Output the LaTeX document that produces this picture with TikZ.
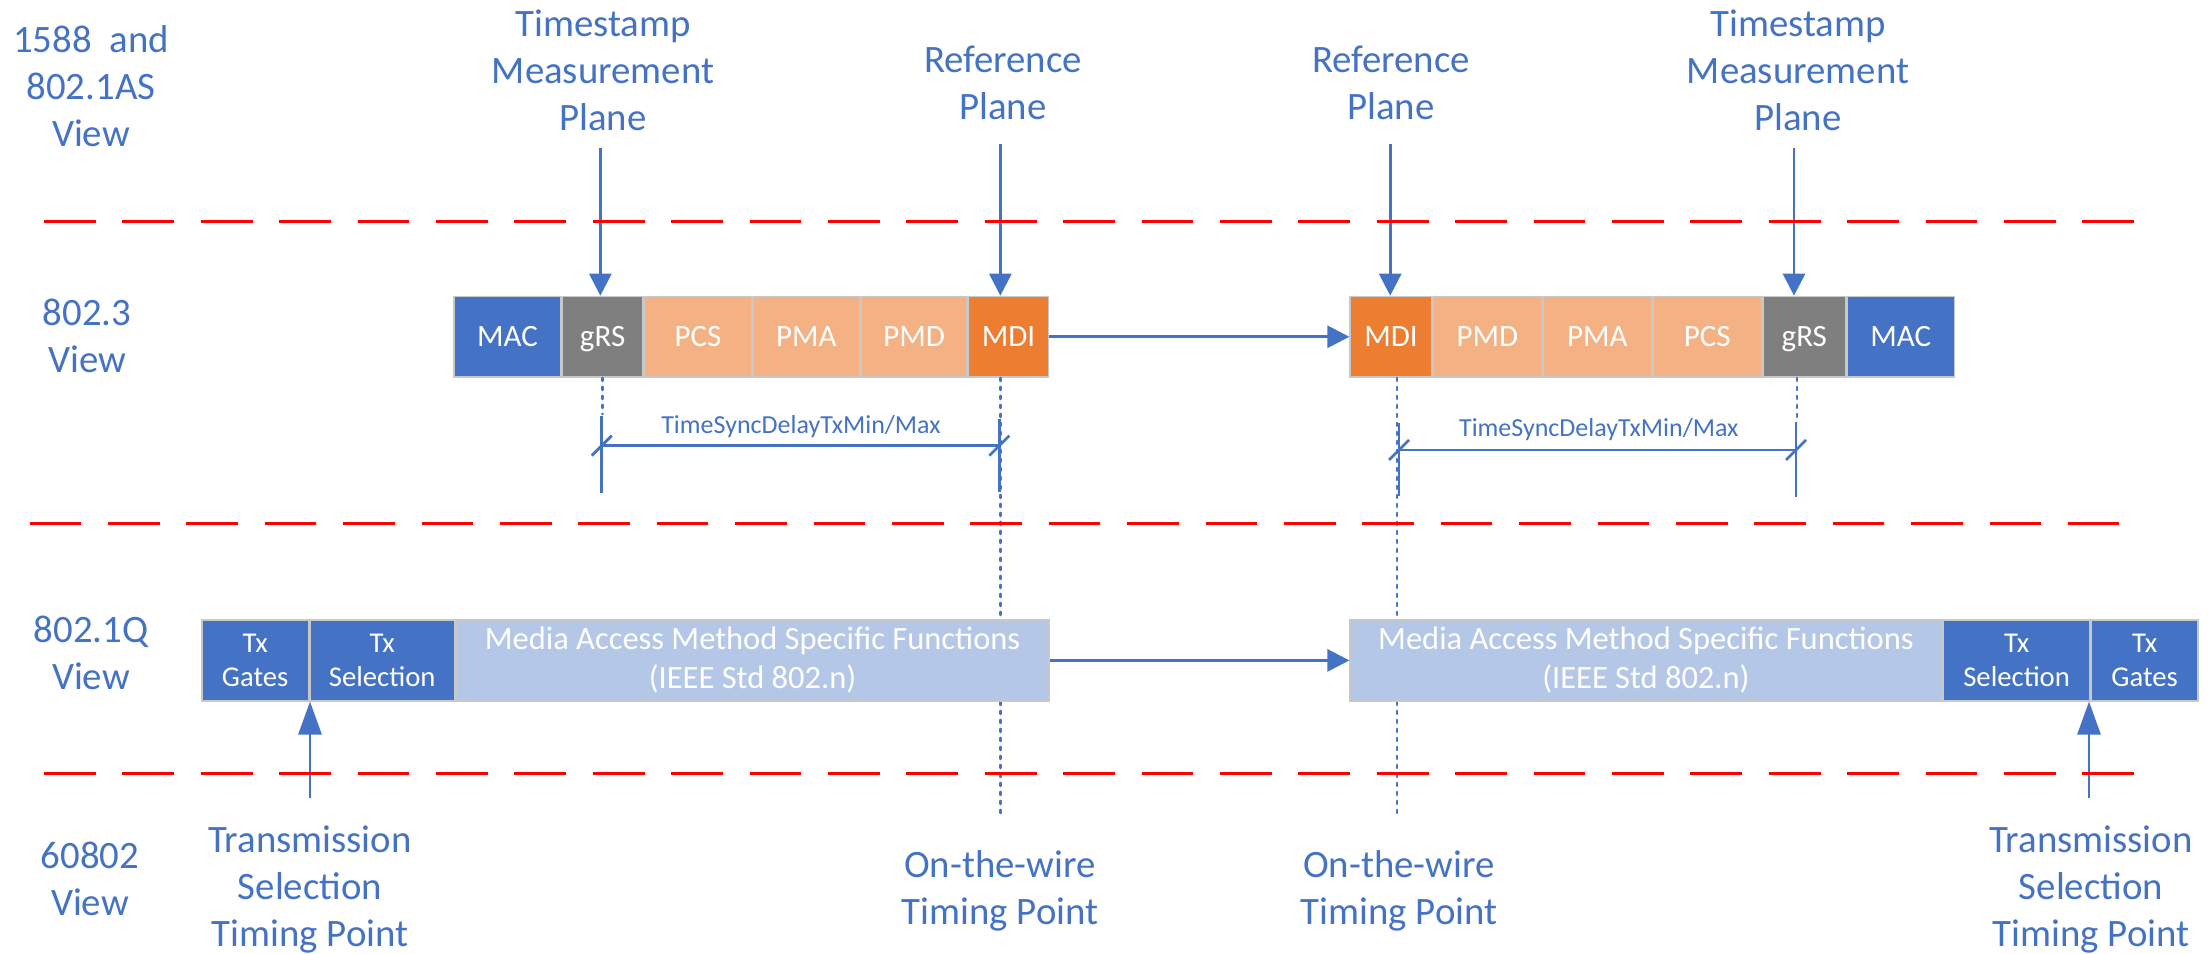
\documentclass[tikz,border=0pt]{standalone}
\usepackage{fontspec}
\setmainfont{Carlito}
\usetikzlibrary{arrows.meta}
\definecolor{msblue}{HTML}{4472C4}
\definecolor{grsfill}{HTML}{7F7F7F}
\definecolor{phyfill}{HTML}{F4B183}
\definecolor{mdifill}{HTML}{ED7D31}
\definecolor{mediafill}{HTML}{B4C7E7}
\definecolor{boxedge}{HTML}{C8C8C8}
\definecolor{divider}{HTML}{FF0000}

\begin{document}
\begin{tikzpicture}[x=1pt,y=-1pt,
  % multi-line labels are anchored at the baseline of their last line
  lbl/.style={text=msblue, align=center, inner sep=0pt, anchor=base,
    font=\fontsize{38.8}{46.8}\selectfont},
  dimlbl/.style={text=msblue, inner sep=0pt, anchor=base,
    font=\fontsize{26}{31}\selectfont},
  layer/.style={draw=boxedge, line width=1.5pt, inner sep=0pt, anchor=north west,
    text=white, minimum height=80.7pt, text height=20pt, text depth=0pt,
    font=\fontsize{31}{37}\selectfont},
  qbox/.style={draw=boxedge, line width=1.5pt, inner sep=0pt, anchor=north west,
    text=white, minimum height=80.7pt, align=center},
  txbox/.style={qbox, fill=msblue, font=\fontsize{28.7}{34.5}\selectfont},
  mediabox/.style={qbox, fill=mediafill, font=\fontsize{32.5}{39}\selectfont},
  conn/.style={draw=msblue, line width=2.75pt},
  headdown/.style={-{Triangle[length=22pt,width=22pt]}},
  headup/.style={-{Triangle[length=33pt,width=23pt]}},
  dotline/.style={draw=msblue, line width=2.75pt, line cap=round, dash pattern=on 3pt off 6pt},
  extline/.style={draw=msblue, line width=2.75pt},
  tickmark/.style={draw=msblue, line width=2.75pt},
  viewsep/.style={draw=divider, line width=3.5pt, dash pattern=on 51.7pt off 26.7pt}
]
\useasboundingbox (0,0) rectangle (2211,953);

% ---------- view names ----------
\node[lbl] (v1588)  at (91,146)   {1588\ \ and\\802.1AS\\View};
\node[lbl] (v8023)  at (87,372)   {802.3\\View};
\node[lbl] (v8021q) at (91,689)   {802.1Q\\View};
\node[lbl] (v60802) at (90,915.5) {60802\\View};

% ---------- plane labels ----------
\node[lbl] (tsmL) at (603,130)  {Timestamp\\Measurement\\Plane};
\node[lbl] (refL) at (1003,119) {Reference\\Plane};
\node[lbl] (refR) at (1391,119) {Reference\\Plane};
\node[lbl] (tsmR) at (1798,130) {Timestamp\\Measurement\\Plane};

% ---------- timing point labels ----------
\node[lbl] (tspL) at (310,946.5)  {Transmission\\Selection\\Timing Point};
\node[lbl] (owL)  at (1000,924.6) {On-the-wire\\Timing Point};
\node[lbl] (owR)  at (1399,924.6) {On-the-wire\\Timing Point};
\node[lbl] (tspR) at (2091,946.5) {Transmission\\Selection\\Timing Point};

% ---------- ends of the vertical timing lines ----------
\coordinate (wireL) at (1000.7,813);
\coordinate (wireR) at (1397,815);
\coordinate (grsDropR) at (1797,420);

% ---------- 802.3 layers, transmit side ----------
\node[layer, fill=msblue,  minimum width=106.7pt] (mac1) at (453.3,295.7) {MAC};
\node[layer, fill=grsfill, minimum width=80.7pt]  (grs1) at (mac1.north east) {gRS};
\node[layer, fill=phyfill, minimum width=107.1pt] (pcs1) at (grs1.north east) {PCS};
\node[layer, fill=phyfill, minimum width=106.6pt] (pma1) at (pcs1.north east) {PMA};
\node[layer, fill=phyfill, minimum width=106pt]   (pmd1) at (pma1.north east) {PMD};
\node[layer, fill=mdifill, minimum width=79.9pt]  (mdi1) at (pmd1.north east) {MDI};

% ---------- 802.3 layers, receive side ----------
\node[layer, fill=mdifill, minimum width=81.6pt]  (mdi2) at (1349.4,295.7) {MDI};
\node[layer, fill=phyfill, minimum width=108.3pt] (pmd2) at (mdi2.north east) {PMD};
\node[layer, fill=phyfill, minimum width=108.4pt] (pma2) at (pmd2.north east) {PMA};
\node[layer, fill=phyfill, minimum width=108.4pt] (pcs2) at (pma2.north east) {PCS};
\node[layer, fill=grsfill, minimum width=82.9pt]  (grs2) at (pcs2.north east) {gRS};
\node[layer, fill=msblue,  minimum width=107pt]   (mac2) at (grs2.north east) {MAC};

% dotted drops from the planes (the 802.1Q boxes are drawn over them)
\draw[dotline] (grs1.south) -- ++(0,36);
\draw[dotline] (mdi1.south -| wireL) -- (wireL);
\draw[dotline] (mdi2.south -| wireR) -- (wireR);
\draw[dotline] (grs2.south -| grsDropR) -- (grsDropR);

% ---------- 802.1Q functions ----------
\node[txbox, minimum width=106.7pt] (gates1) at (201,619.3) {Tx\\Gates};
\node[txbox, minimum width=144.6pt] (sel1) at (gates1.north east) {Tx\\Selection};
\node[mediabox, minimum width=593pt] (media1) at (sel1.north east)
  {Media Access Method Specific Functions\\(IEEE Std 802.n)};

\node[mediabox, minimum width=591.6pt] (media2) at (1349.4,619.3)
  {Media Access Method Specific Functions\\(IEEE Std 802.n)};
\node[txbox, minimum width=146.7pt] (sel2) at (media2.north east) {Tx\\Selection};
\node[txbox, minimum width=106.3pt] (gates2) at (sel2.north east) {Tx\\Gates};

% ---------- plane arrows ----------
\coordinate (tsmTailL) at (600.35,147.7);
\coordinate (refTailL) at (1000.35,144);
\coordinate (refTailR) at (1390.2,144);
\coordinate (tsmTailR) at (1794,147.7);
\draw[conn, headdown] (tsmTailL) -- (tsmTailL |- grs1.north);
\draw[conn, headdown] (refTailL) -- (refTailL |- mdi1.north);
\draw[conn, headdown] (refTailR) -- (refTailR |- mdi2.north);
\draw[conn, headdown] (tsmTailR) -- (tsmTailR |- grs2.north);

% ---------- link arrows ----------
\draw[conn, headdown] (mdi1.east) -- (mdi2.west);
\draw[conn, headdown] (media1.east) -- (media2.west);

% ---------- transmission selection arrows ----------
\coordinate (tspTailL) at (310,798.3);
\coordinate (tspTailR) at (2089,798.3);
\draw[conn, headup] (tspTailL) -- (tspTailL |- gates1.south);
\draw[conn, headup] (tspTailR) -- (tspTailR |- gates2.south);

% ---------- TimeSyncDelayTxMin/Max, transmit side ----------
\coordinate (dimL1) at (601.7,445.7);
\coordinate (dimL2) at (999.3,445.7);
\draw[extline] (601.7,416) -- (601.7,492.7);
\draw[extline] (999.3,419) -- (999.3,491.7);
\draw[conn] (dimL1) -- (dimL2);
\draw[tickmark] (dimL1) ++(-10,10) -- ++(20,-20);
\draw[tickmark] (dimL2) ++(-10,10) -- ++(20,-20);
\node[dimlbl] (dlyL) at (801,433) {TimeSyncDelayTxMin/Max};

% ---------- TimeSyncDelayTxMin/Max, receive side ----------
\coordinate (dimR1) at (1399,450);
\coordinate (dimR2) at (1796,450);
\draw[extline] (1399,423) -- (1399,496);
\draw[extline] (1796,421.7) -- (1796,496.7);
\draw[conn] (dimR1) -- (dimR2);
\draw[tickmark] (dimR1) ++(-10,10) -- ++(20,-20);
\draw[tickmark] (dimR2) ++(-10,10) -- ++(20,-20);
\node[dimlbl] (dlyR) at (1598.8,436.6) {TimeSyncDelayTxMin/Max};

% ---------- view separators ----------
\draw[viewsep] (44,221.7) -- (2134,221.7);
\draw[viewsep] (29.5,523.6) -- (2119,523.6);
\draw[viewsep] (44,773.7) -- (2134,773.7);
\end{tikzpicture}
\end{document}
